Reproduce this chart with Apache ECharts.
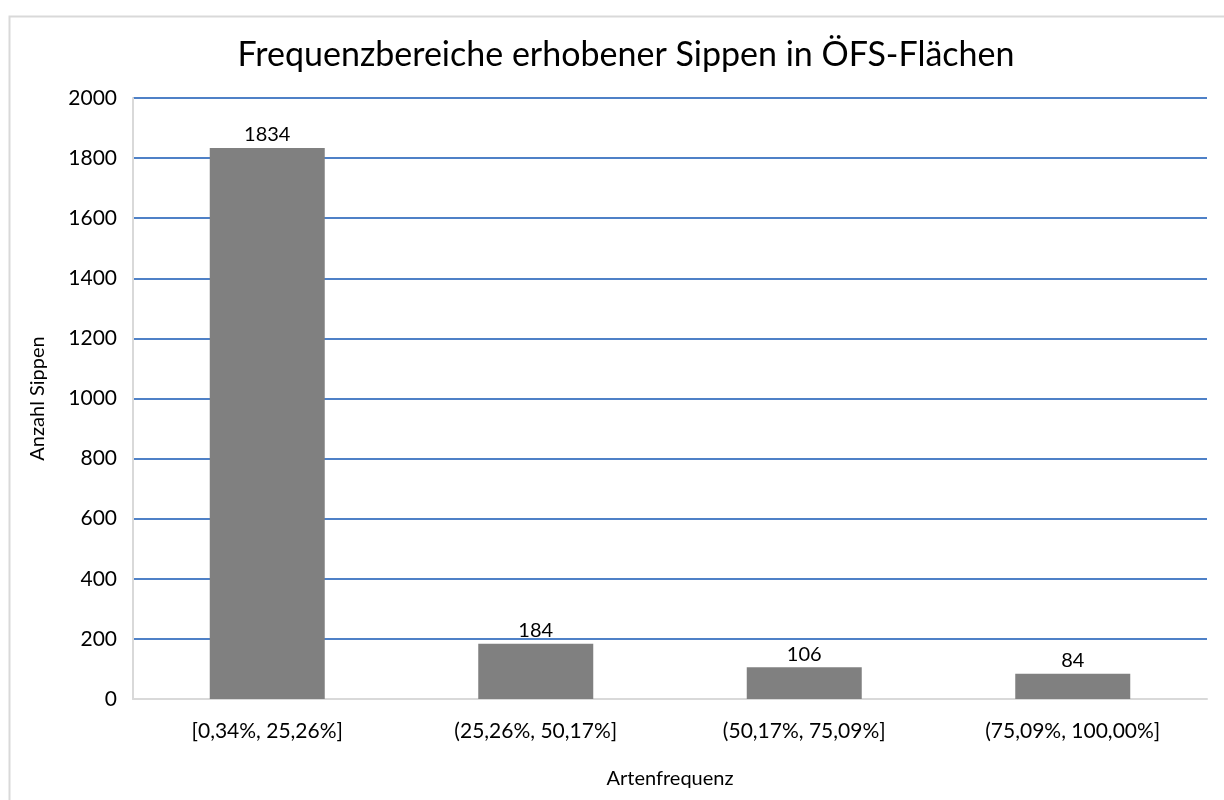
<!DOCTYPE html>
<html>
<head>
<meta charset="utf-8">
<script src="https://cdn.jsdelivr.net/npm/echarts@6/dist/echarts.min.js"></script>
<style>
  html, body { margin: 0; padding: 0; background: #fff; }
  #chart { width: 1224px; height: 800px; }
</style>
</head>
<body>
<div id="chart"></div>
<script>
// Frequenzklassen und Anzahl Sippen
var categories = ["[0,34%, 25,26%]", "(25,26%, 50,17%]", "(50,17%, 75,09%]", "(75,09%, 100,00%]"];
var counts = [1834, 184, 106, 84];
var yTicks = [0, 200, 400, 600, 800, 1000, 1200, 1400, 1600, 1800, 2000];

var font = "Lato";
var chart = echarts.init(document.getElementById("chart"));

var option = {
  animation: false,
  textStyle: { fontFamily: font },
  graphic: [
    {
      type: "rect",
      left: 7,
      top: 14,
      shape: { width: 1240, height: 820 },
      style: { fill: "none", stroke: "#d9d9d9", lineWidth: 2 },
      silent: true
    }
  ],
  title: {
    text: "Frequenzbereiche erhobener Sippen in ÖFS-Flächen",
    left: 621,
    textAlign: "center",
    top: 33,
    textStyle: { fontFamily: font, fontSize: 34, fontWeight: "normal", color: "#000" }
  },
  grid: { left: 133, right: 17, top: 98, bottom: 101 },
  xAxis: {
    type: "category",
    data: categories,
    name: "Artenfrequenz",
    nameLocation: "middle",
    nameGap: 70,
    nameTextStyle: { fontFamily: font, fontSize: 20, color: "#000" },
    axisLine: { lineStyle: { color: "#d9d9d9", width: 2 } },
    axisTick: { show: false },
    axisLabel: { fontFamily: font, fontSize: 21, color: "#000", margin: 22 }
  },
  yAxis: {
    type: "value",
    min: yTicks[0],
    max: yTicks[yTicks.length - 1],
    interval: 200,
    name: "Anzahl Sippen",
    nameLocation: "middle",
    nameGap: 85,
    nameRotate: 90,
    nameTextStyle: { fontFamily: font, fontSize: 20, color: "#000" },
    axisLine: { show: true, lineStyle: { color: "#d9d9d9", width: 2 } },
    axisTick: { show: false },
    axisLabel: {
      fontFamily: font,
      fontSize: 21,
      color: "#000",
      margin: 16,
      formatter: function (v) { return String(v); }
    },
    splitLine: { lineStyle: { color: "#4f81c7", width: 2 } }
  },
  series: [
    {
      type: "bar",
      data: counts,
      barWidth: 115,
      itemStyle: { color: "#808080" },
      label: {
        show: true,
        position: "top",
        distance: 3,
        fontFamily: font,
        fontSize: 20,
        color: "#000"
      }
    }
  ]
};
chart.setOption(option);
</script>
</body>
</html>
